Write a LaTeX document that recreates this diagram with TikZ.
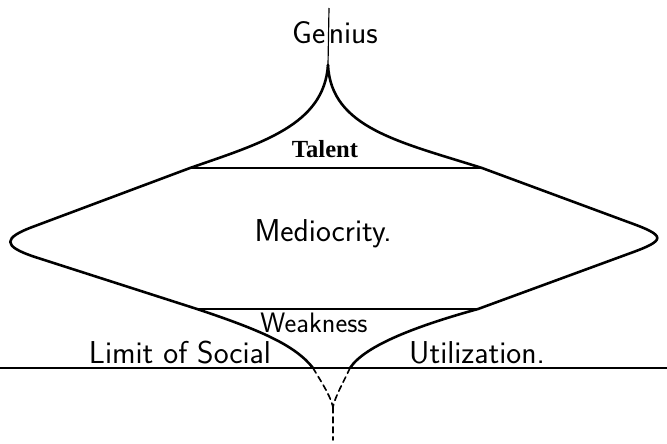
\documentclass[tikz,border=0pt]{standalone}
\usepackage{fontspec}
\newfontfamily\talentfont{Liberation Serif}
\usepackage{tikz}

\begin{document}
\begin{tikzpicture}[
  x=0.03cm, y=-0.03cm,
  outline/.style={line width=2.2pt,line join=round,line cap=round},
  rule/.style={line width=1.3pt},
  limit/.style={line width=1pt},
  fade/.style={outline,line width=1.4pt,dash pattern=on 5pt off 3.5pt},
  hand/.style={font=\sffamily\fontsize{27}{30}\selectfont\addfontfeatures{LetterSpace=6},
               anchor=base,inner sep=0pt},
  label/.style={font=\talentfont\bfseries\fontsize{21}{22}\selectfont,
                anchor=base,inner sep=0pt}
]
  \path[fill=white] (0,0) rectangle (667,443);
  \useasboundingbox (0,0) rectangle (667,443);

  \coordinate (top) at (328,65);
  \coordinate (tl) at (190,168);
  \coordinate (tr) at (482,168);
  \coordinate (wl) at (197,309);
  \coordinate (wr) at (478,309);
  \coordinate (ll) at (313,368);
  \coordinate (lr) at (350,368);
  \coordinate (bot) at (333,407);

  \node[hand,anchor=base west] (genius) at (292,43) {Ge\kern3pt nius};
  \node[label] (talent) at (325,157) {Talent};
  \node[hand] (medio) at (323,241) {Mediocrity.};
  \node[hand,font=\sffamily\fontsize{24}{26}\selectfont\addfontfeatures{LetterSpace=6}] (weak) at (314,332) {Weakness};
  \node[hand] (limit) at (180,363) {Limit of Social};
  \node[hand] (util) at (477,363) {Utilization.};

  \draw[limit] (329,8) -- (top);
  \draw[rule] (tl) -- (tr);
  \draw[rule] (wl) -- (wr);
  \draw[limit] (0,368) -- (667,368);

  \draw[outline] (top) .. controls (324,125) and (262,143) .. (tl)
    -- (35,226) .. controls (2,238) and (2,246) .. (35,257)
    -- (wl) .. controls (260,330) and (295,345) .. (ll);
  \draw[outline] (top) .. controls (331,128) and (400,142) .. (tr)
    -- (628,222) .. controls (667,236) and (667,240) .. (628,254)
    -- (wr) .. controls (420,325) and (365,345) .. (lr);

  \draw[fade] (ll) .. controls (322,383) and (330,395) .. (bot);
  \draw[fade] (lr) .. controls (342,385) and (335,397) .. (bot);
  \draw[fade] (bot) -- (333,440);
\end{tikzpicture}
\end{document}
